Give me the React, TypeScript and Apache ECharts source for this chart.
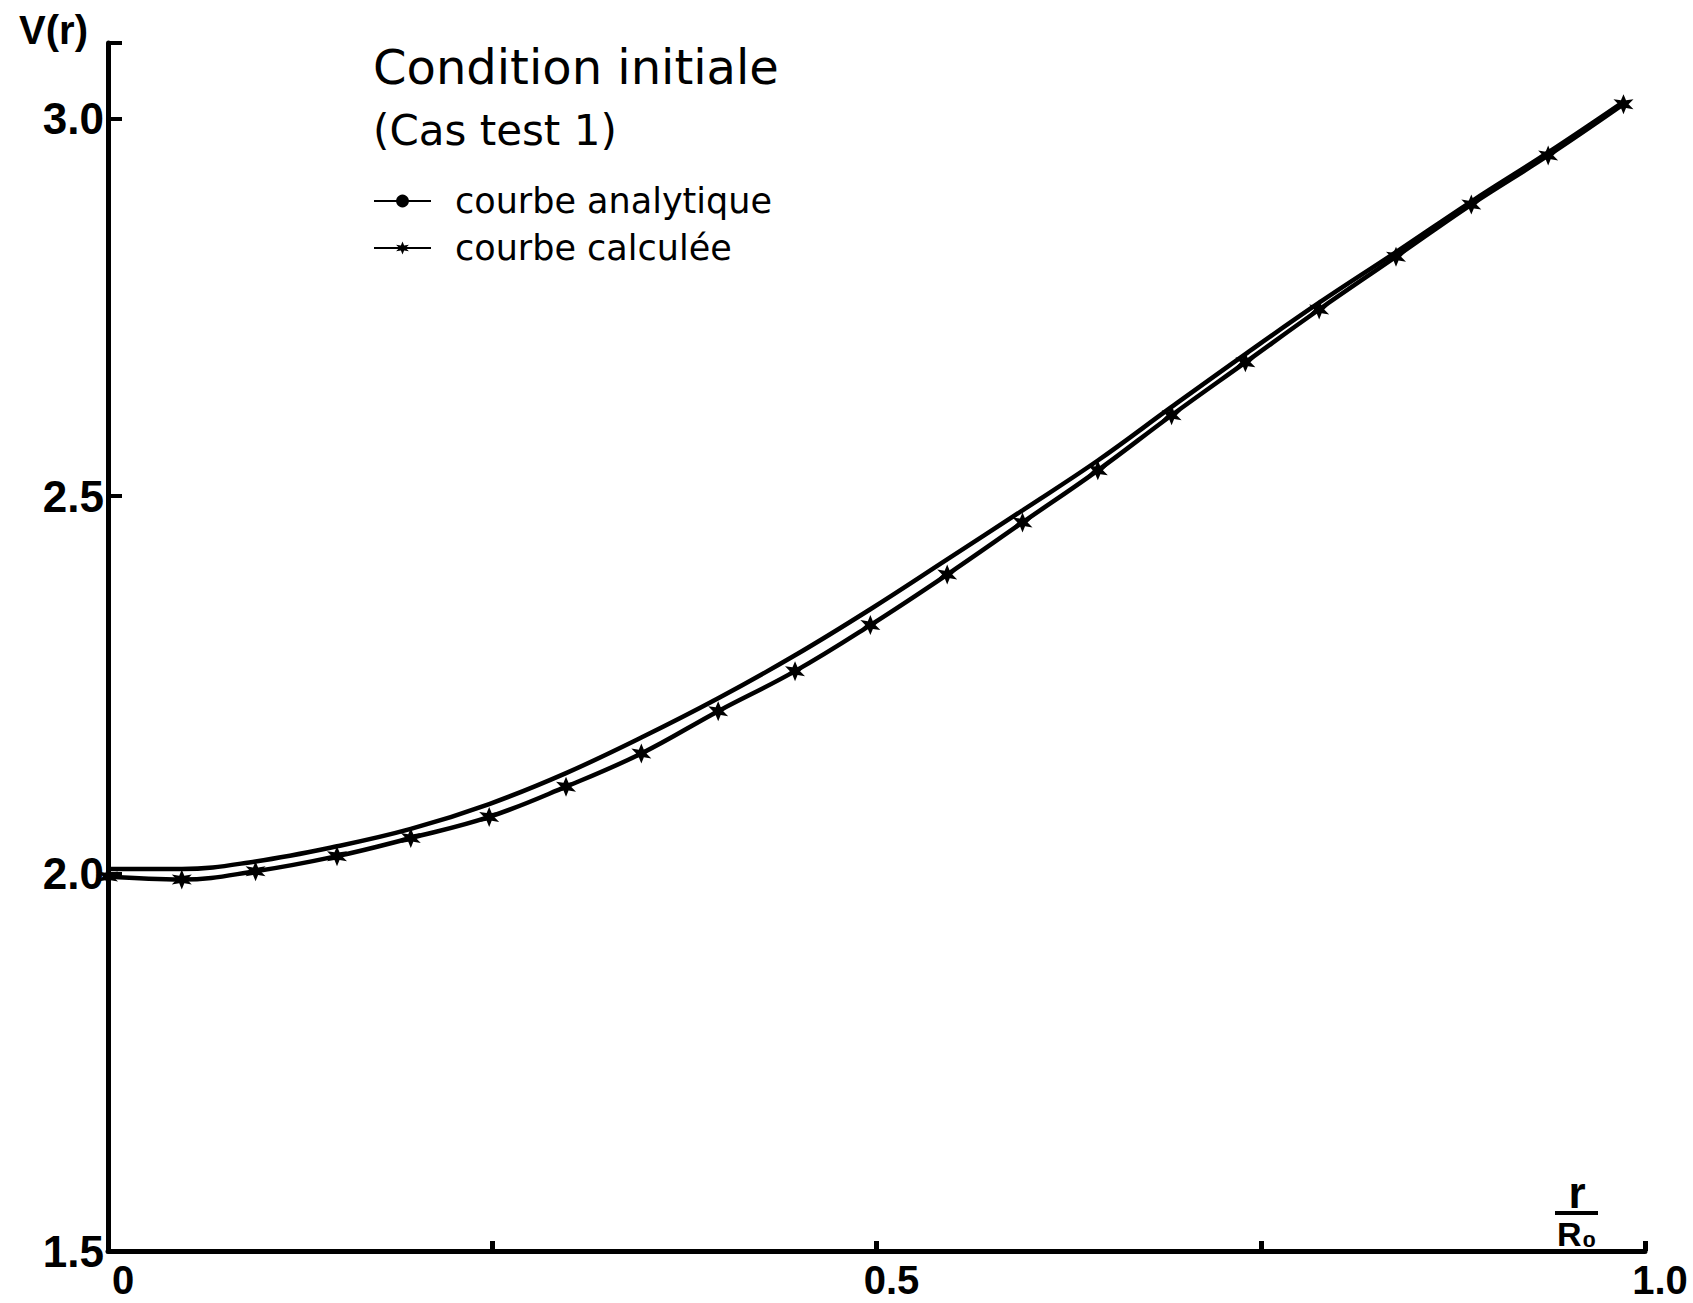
import React, { useEffect, useRef } from "react";
import * as echarts from "echarts";

// r / R0 positions of the computed points
const rValues = [0, 0.048, 0.096, 0.149, 0.197, 0.248, 0.298, 0.347, 0.397, 0.447, 0.496, 0.546, 0.595, 0.644, 0.692, 0.74, 0.788, 0.838, 0.887, 0.937, 0.986];
// courbe calculée (with star markers)
const calcValues = [1.996, 1.992, 2.003, 2.023, 2.047, 2.075, 2.115, 2.159, 2.215, 2.268, 2.329, 2.396, 2.465, 2.534, 2.607, 2.677, 2.747, 2.817, 2.886, 2.951, 3.019];
// courbe analytique
const analValues = [2.006, 2.006, 2.016, 2.036, 2.059, 2.092, 2.133, 2.18, 2.232, 2.289, 2.35, 2.416, 2.481, 2.547, 2.618, 2.688, 2.756, 2.823, 2.89, 2.955, 3.022];

const yTickLabels = ["1.5", "2.0", "2.5", "3.0"];
const xTickLabels: Record<string, string> = { "0": "0", "0.5": "0.5", "1": "1.0" };

const seriesNames = ["courbe analytique", "courbe calculée"];
const titleText = "Condition initiale";
const subtitleText = "(Cas test 1)";
const yName = "V(r)";

function starPath(): string {
  const pts: string[] = [];
  for (let k = 0; k < 12; k++) {
    const a = ((-90 + k * 30) * Math.PI) / 180;
    const rad = k % 2 === 0 ? 50 : 22;
    pts.push(`${(50 + rad * Math.cos(a)).toFixed(2)} ${(50 + rad * Math.sin(a)).toFixed(2)}`);
  }
  return "path://M" + pts.join(" L") + " Z";
}

export default function App() {
  const ref = useRef<HTMLDivElement>(null);
  useEffect(() => {
    if (!ref.current) return;
    const chart = echarts.init(ref.current, undefined, { renderer: "svg" });
    const numFont = "Liberation Sans, Arial, sans-serif";
    const handFont = "DejaVu Sans, sans-serif";
    const star = starPath();
    chart.setOption({
      animation: false,
      backgroundColor: "#ffffff",
      title: {
        text: titleText,
        subtext: subtitleText,
        left: 373,
        top: 42,
        padding: 0,
        itemGap: 13,
        textStyle: { fontFamily: handFont, fontSize: 48, fontWeight: "normal", color: "#000", lineHeight: 50 },
        subtextStyle: { fontFamily: handFont, fontSize: 42, color: "#000", lineHeight: 50 },
      },
      legend: {
        orient: "vertical",
        left: 373,
        top: 182,
        padding: 0,
        itemWidth: 57,
        itemHeight: 16,
        itemGap: 9,
        data: seriesNames,
        textStyle: { fontFamily: handFont, fontSize: 35, color: "#000", lineHeight: 38, padding: [0, 0, 0, 19] },
      },
      grid: { left: 108, right: 48, top: 43, bottom: 52, containLabel: false, outerBoundsMode: "none" },
      xAxis: {
        type: "value",
        min: 0,
        max: 1,
        interval: 0.25,
        axisLine: { show: true, lineStyle: { color: "#000", width: 5 } },
        axisTick: { show: true, inside: true, length: 10, lineStyle: { color: "#000", width: 5 } },
        splitLine: { show: false },
        axisLabel: {
          show: true,
          margin: 12,
          color: "#000",
          fontFamily: numFont,
          fontWeight: "bold",
          fontSize: 40,
          lineHeight: 34,
          padding: [0, 0, 0, 30],
          formatter: (v: number) => xTickLabels[String(v)] ?? "",
        },
      },
      yAxis: {
        type: "value",
        min: 1.5,
        max: 3.1,
        interval: 0.5,
        name: yName,
        nameLocation: "end",
        nameGap: 13,
        nameTextStyle: {
          fontFamily: numFont,
          fontWeight: "bold",
          fontSize: 40,
          color: "#000",
          align: "right",
          verticalAlign: "middle",
          padding: [0, 20, 0, 0],
        },
        axisLine: { show: true, lineStyle: { color: "#000", width: 5 } },
        axisTick: { show: true, inside: true, length: 14, lineStyle: { color: "#000", width: 4 } },
        splitLine: { show: false },
        axisLabel: {
          show: true,
          margin: 4,
          color: "#000",
          fontFamily: numFont,
          fontWeight: "bold",
          fontSize: 44,
          formatter: (v: number) => {
            const s = v.toFixed(1);
            return yTickLabels.includes(s) ? s : "";
          },
        },
      },
      series: [
        {
          name: seriesNames[0],
          type: "line",
          smooth: 0.4,
          symbol: "circle",
          showSymbol: false,
          symbolSize: 10,
          itemStyle: { color: "#000" },
          lineStyle: { color: "#000", width: 4.5 },
          data: rValues.map((r, i) => [r, analValues[i]]),
          z: 2,
        },
        {
          name: seriesNames[1],
          type: "line",
          smooth: 0.4,
          symbol: star,
          symbolSize: 20,
          showSymbol: true,
          itemStyle: { color: "#000" },
          lineStyle: { color: "#000", width: 4.5 },
          data: rValues.map((r, i) => [r, calcValues[i]]),
          z: 3,
        },
      ],
      graphic: [
        {
          type: "text",
          x: 1577,
          y: 1209,
          style: {
            text: "r",
            font: "bold 44px Liberation Sans, Arial, sans-serif",
            fill: "#000",
            align: "center",
            verticalAlign: "bottom",
            lineHeight: 34,
          },
        },
        {
          type: "line",
          shape: { x1: 1555, y1: 1213, x2: 1598, y2: 1213 },
          style: { stroke: "#000", lineWidth: 4 },
        },
        {
          type: "text",
          x: 1577,
          y: 1219,
          style: {
            text: "R₀",
            font: "bold 34px Liberation Sans, Arial, sans-serif",
            fill: "#000",
            align: "center",
            verticalAlign: "top",
            lineHeight: 30,
          },
        },
      ],
    });
    return () => chart.dispose();
  }, []);
  return (
    <div
      ref={ref}
      style={{ position: "absolute", left: 0, top: 0, width: 1693, height: 1303, background: "#fff" }}
    />
  );
}
